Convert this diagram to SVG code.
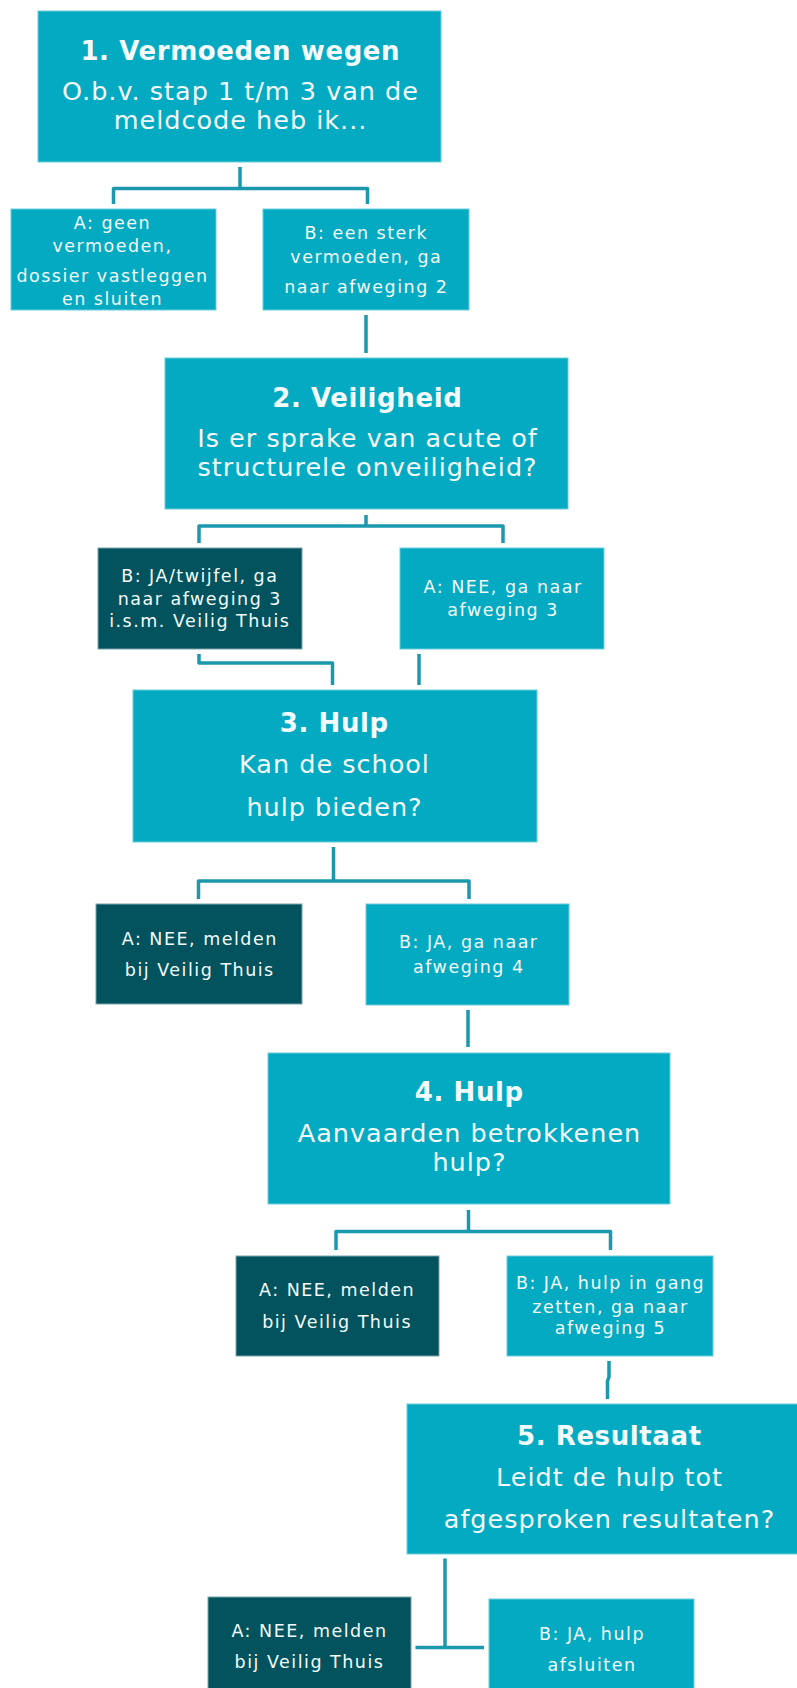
<svg xmlns="http://www.w3.org/2000/svg" width="797" height="1688" viewBox="0 0 797 1688">
<style>
.box{fill:#03aac1;stroke:#6cccdb;stroke-width:1}
.dark{fill:#02535e;stroke:#7aa3a9;stroke-width:1}
text{font-family:"DejaVu Sans",Verdana,sans-serif;fill:#f4fbfc;text-anchor:middle}
.t{font-size:26px;font-weight:bold;letter-spacing:0.6px}
.m{font-size:25.5px;letter-spacing:1px}
.s{font-size:17.5px;letter-spacing:1.5px}
.c{fill:none;stroke:#1b98ad;stroke-width:3.5;stroke-linejoin:round}
</style>
<rect width="797" height="1688" fill="#ffffff"/>
<g id="connectors">
<path class="c" d="M240,167 V188.5 M113.5,204 V188.5 H367.5 V204"/>
<path class="c" d="M366,315 V353"/>
<path class="c" d="M366,515 V526 M199,543 V526 H503 V543"/>
<path class="c" d="M199,654 V663 H332.5 V685"/>
<path class="c" d="M419,654 V685"/>
<path class="c" d="M333.5,847 V881 M198.5,899 V881 H469 V899"/>
<path class="c" d="M468,1010 V1047"/>
<path class="c" d="M468.5,1210 V1231.5 M336,1250 V1231.5 H610.5 V1250"/>
<path class="c" d="M609,1361 V1377 L607.5,1381 V1399"/>
<path class="c" d="M445,1558.5 V1647.5 M415.5,1647.5 H484"/>
</g>
<g id="n1">
<rect class="box" x="38" y="11" width="403" height="151"/>
<text class="t" x="240.3" y="60">1. Vermoeden wegen</text>
<text class="m" x="240.5" y="100">O.b.v. stap 1 t/m 3 van de</text>
<text class="m" x="240.5" y="129.3">meldcode heb ik...</text>
</g>
<g id="n1a">
<rect class="box" x="11" y="209" width="205" height="101"/>
<text class="s" x="112.5" y="229.3">A: geen</text>
<text class="s" x="112.5" y="251.7">vermoeden,</text>
<text class="s" x="112.5" y="281.7">dossier vastleggen</text>
<text class="s" x="112.5" y="305">en sluiten</text>
</g>
<g id="n1b">
<rect class="box" x="263" y="209" width="206" height="101"/>
<text class="s" x="366.3" y="239.3">B: een sterk</text>
<text class="s" x="366.3" y="263.3">vermoeden, ga</text>
<text class="s" x="366.3" y="293.3">naar afweging 2</text>
</g>
<g id="n2">
<rect class="box" x="165" y="358" width="403" height="151"/>
<text class="t" x="367.3" y="406.7">2. Veiligheid</text>
<text class="m" x="367.5" y="446.7">Is er sprake van acute of</text>
<text class="m" x="367.5" y="476">structurele onveiligheid?</text>
</g>
<g id="n2b">
<rect class="dark" x="98" y="548" width="204" height="101"/>
<text class="s" x="199.8" y="581.7">B: JA/twijfel, ga</text>
<text class="s" x="199.8" y="605">naar afweging 3</text>
<text class="s" x="199.8" y="626.7">i.s.m. Veilig Thuis</text>
</g>
<g id="n2a">
<rect class="box" x="400" y="548" width="204" height="101"/>
<text class="s" x="503.1" y="592.7">A: NEE, ga naar</text>
<text class="s" x="503.1" y="616">afweging 3</text>
</g>
<g id="n3">
<rect class="box" x="133" y="690" width="404" height="152"/>
<text class="t" x="334.3" y="732.3">3. Hulp</text>
<text class="m" x="334.5" y="772.7">Kan de school</text>
<text class="m" x="334.5" y="815.7">hulp bieden?</text>
</g>
<g id="n3a">
<rect class="dark" x="96" y="904" width="206" height="100"/>
<text class="s" x="199.8" y="945">A: NEE, melden</text>
<text class="s" x="199.8" y="976">bij Veilig Thuis</text>
</g>
<g id="n3b">
<rect class="box" x="366" y="904" width="203" height="101"/>
<text class="s" x="468.8" y="948.3">B: JA, ga naar</text>
<text class="s" x="468.8" y="972.7">afweging 4</text>
</g>
<g id="n4">
<rect class="box" x="268" y="1053" width="402" height="151"/>
<text class="t" x="469.3" y="1101">4. Hulp</text>
<text class="m" x="469.5" y="1141.7">Aanvaarden betrokkenen</text>
<text class="m" x="469.5" y="1170.7">hulp?</text>
</g>
<g id="n4a">
<rect class="dark" x="236" y="1256" width="203" height="100"/>
<text class="s" x="337.1" y="1296">A: NEE, melden</text>
<text class="s" x="337.1" y="1327.7">bij Veilig Thuis</text>
</g>
<g id="n4b">
<rect class="box" x="507" y="1256" width="206" height="100"/>
<text class="s" x="610.5" y="1289.3">B: JA, hulp in gang</text>
<text class="s" x="610.5" y="1313.3">zetten, ga naar</text>
<text class="s" x="610.5" y="1334">afweging 5</text>
</g>
<g id="n5">
<rect class="box" x="407" y="1404" width="395" height="150"/>
<text class="t" x="609.3" y="1444.7">5. Resultaat</text>
<text class="m" x="609.5" y="1486.3">Leidt de hulp tot</text>
<text class="m" x="609.5" y="1528">afgesproken resultaten?</text>
</g>
<g id="n5a">
<rect class="dark" x="208" y="1597" width="203" height="105"/>
<text class="s" x="309.5" y="1637.3">A: NEE, melden</text>
<text class="s" x="309.5" y="1668.3">bij Veilig Thuis</text>
</g>
<g id="n5b">
<rect class="box" x="489" y="1599" width="205" height="103"/>
<text class="s" x="592" y="1639.7">B: JA, hulp</text>
<text class="s" x="592" y="1671.3">afsluiten</text>
</g>
</svg>
